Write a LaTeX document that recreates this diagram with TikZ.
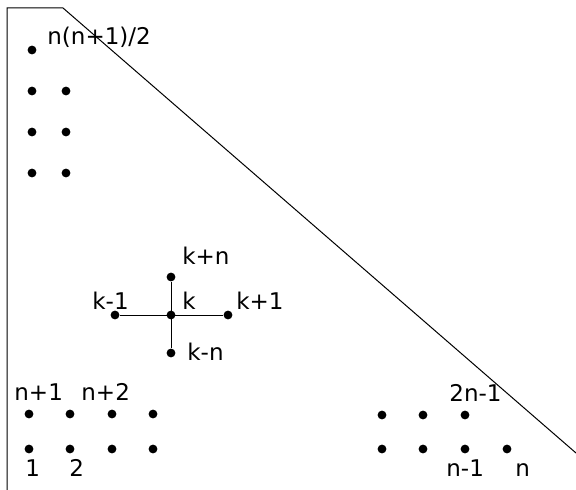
\documentclass[tikz,border=0pt]{standalone}
\usepackage{fontspec}
\setmainfont{DejaVu Sans}

\begin{document}
\begin{tikzpicture}[x=0.5pt, y=-0.5pt,
  every node/.style={font=\fontsize{11.5}{13}\selectfont},
  dot/.style={circle, fill, inner sep=0pt, minimum size=4.4pt},
  lbl/.style={anchor=base west, inner sep=0pt}]
\useasboundingbox (0,0) rectangle (576,490);
% border of the triangle
\draw[line width=0.5pt] (7,490) -- (7,8) -- (63,8) -- (576,453);

% top corner
\node[dot] (t0) at (32,50) {};
\node[dot] (t1) at (32,91) {};
\node[dot] (t2) at (66,91) {};
\node[dot] (t3) at (32,132) {};
\node[dot] (t4) at (66,132) {};
\node[dot] (t5) at (32,173) {};
\node[dot] (t6) at (66,173) {};
\node[lbl] (lt0) at (47,45) {n(n+1)/2};

% stencil around k
\node[dot] (k) at (171,315) {};
\node[dot] (kn) at (171,277) {};
\node[dot] (ks) at (171,353) {};
\node[dot] (kw) at (115,315) {};
\node[dot] (ke) at (228,315) {};
\draw[line width=0.4pt] (kw) -- (ke);
\draw[line width=0.4pt] (kn) -- (ks);
\node[lbl] (lk) at (182,310) {k};
\node[lbl] (lkn) at (182,265) {k+n};
\node[lbl] (lks) at (187,360) {k-n};
\node[lbl] (lkw) at (92,310) {k-1};
\node[lbl] (lke) at (236,310) {k+1};

% bottom left corner
\node[dot] (b1) at (29,449) {};
\node[dot] (b2) at (70,449) {};
\node[dot] (b3) at (112,449) {};
\node[dot] (b4) at (153,449) {};
\node[dot] (c1) at (29,414) {};
\node[dot] (c2) at (70,414) {};
\node[dot] (c3) at (112,414) {};
\node[dot] (c4) at (153,414) {};
\node[lbl] (lb1) at (25,476) {1};
\node[lbl] (lb2) at (69,476) {2};
\node[lbl] (lc1) at (14,400) {n+1};
\node[lbl] (lc2) at (81,400) {n+2};

% bottom right corner
\node[dot] (r1) at (382,449) {};
\node[dot] (r2) at (423,449) {};
\node[dot] (r3) at (465,449) {};
\node[dot] (r4) at (507,449) {};
\node[dot] (s1) at (382,415) {};
\node[dot] (s2) at (423,415) {};
\node[dot] (s3) at (465,415) {};
\node[lbl] (lr3) at (446,476) {n-1};
\node[lbl] (lr4) at (515,476) {n};
\node[lbl] (ls3) at (449,401) {2n-1};
\end{tikzpicture}
\end{document}
